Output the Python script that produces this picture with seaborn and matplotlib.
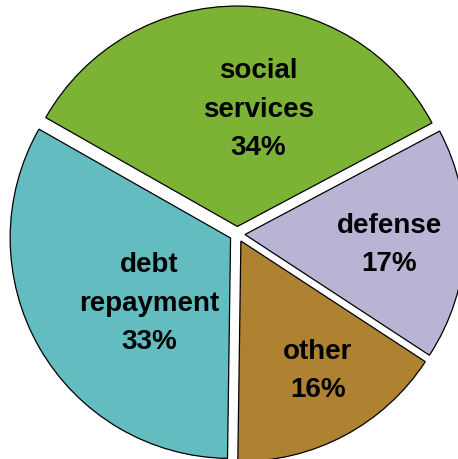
import seaborn as sns
import matplotlib.pyplot as plt

# Data
categories = ['social\nservices', 'debt\nrepayment', 'other', 'defense']
shares = [34, 33, 16, 17]
colors = ['#7cb334', '#62bcc0', '#ae8230', '#b7b5d3']

sns.set_theme(style='white')
plt.rcParams['font.family'] = ['Liberation Sans', 'DejaVu Sans']

fig = plt.figure(figsize=(4.58, 4.6), dpi=100)
ax = fig.add_axes([0, 0, 1, 1])

wedges, _ = ax.pie(shares, colors=sns.color_palette(colors), startangle=28,
                   counterclock=True, explode=[0.035] * 4,
                   wedgeprops=dict(edgecolor='black', linewidth=0.9))

# label positions (axes data units)
label_pos = [(0.095, 0.57), (-0.40, -0.31), (0.365, -0.615), (0.69, -0.045)]
for name, val, (x, y) in zip(categories, shares, label_pos):
    ax.text(x, y, f'{name}\n{val}%', ha='center', va='center',
            fontsize=20, fontweight='bold', linespacing=1.62, color='black')

ax.set_xlim(-1.075, 1.0)
ax.set_ylim(-1.02, 1.067)
ax.set_aspect('equal')
ax.axis('off')

fig.savefig('out.png', dpi=100)
